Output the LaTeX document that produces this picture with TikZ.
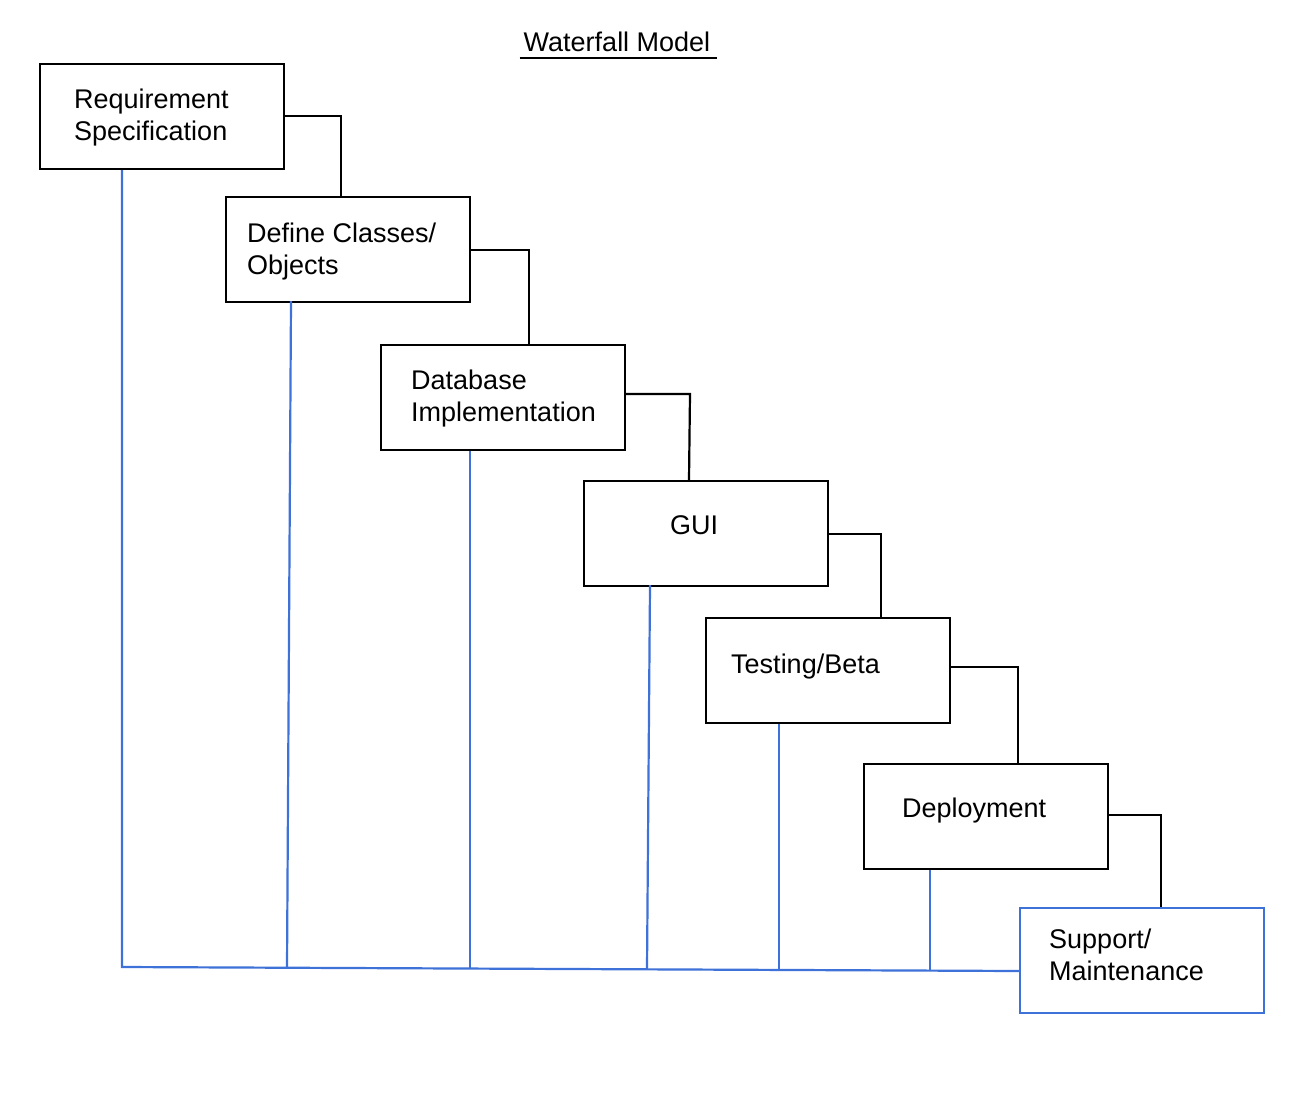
\documentclass[tikz,border=0pt]{standalone}
\usepackage{fontspec}
\setmainfont{Liberation Sans}
\definecolor{flowblue}{RGB}{62,114,216}
\tikzset{
  box/.style={draw=black, line width=2.2pt, rectangle, minimum width=244pt, minimum height=105pt, anchor=north west, inner sep=0pt},
  bluebox/.style={box, draw=flowblue},
  lbl/.style={anchor=base west, align=left, inner sep=0pt, font=\fontsize{27}{31.5}\selectfont},
  flow/.style={draw=black, line width=2.2pt},
  back/.style={draw=flowblue, line width=2.2pt},
}
\begin{document}
\begin{tikzpicture}[x=1pt,y=-1pt]
\useasboundingbox (0,0) rectangle (1304,1103);
% title
\node (title) [anchor=base, inner sep=0pt, font=\fontsize{27}{31.5}\selectfont] at (617,51) {Waterfall Model};
\draw[line width=2.2pt] ([xshift=-4pt,yshift=-7pt]title.base west) -- ([xshift=7pt,yshift=-7pt]title.base east);
% boxes
\node (b1) [box] at (39,63) {};
\node (b2) [box] at (225,196) {};
\node (b3) [box] at (380,344) {};
\node (b4) [box] at (583,480) {};
\node (b5) [box] at (705,617) {};
\node (b6) [box] at (863,763) {};
\node (b7) [bluebox] at (1019,907) {};
% labels (base = baseline of the last line)
\node (t1) [lbl] at (74,140) {Requirement\\Specification};
\node (t2) [lbl] at (247,274) {Define Classes/\\Objects};
\node (t3) [lbl] at (411,421) {Database\\Implementation};
\node (t4) [lbl] at (670,534) {GUI};
\node (t5) [lbl] at (731,673) {Testing/Beta};
\node (t6) [lbl] at (902,817) {Deployment};
\node (t7) [lbl] at (1049,980) {Support/\\Maintenance};
% forward connectors
\coordinate (c1) at (341,116);
\coordinate (c2) at (529,250);
\coordinate (c3) at (690,394);
\coordinate (c4) at (881,534);
\coordinate (c5) at (1018,667);
\coordinate (c6) at (1161,815);
\draw[flow] (b1.east |- c1) -- (c1) -- (c1 |- b2.north);
\draw[flow] (b2.east |- c2) -- (c2) -- (c2 |- b3.north);
\draw[flow] (b3.east |- c3) -- (c3) -- ([xshift=-1pt]c3 |- b4.north);
\draw[flow] (b4.east |- c4) -- (c4) -- (c4 |- b5.north);
\draw[flow] (b5.east |- c5) -- (c5) -- (c5 |- b6.north);
\draw[flow] (b6.east |- c6) -- (c6) -- (c6 |- b7.north);
% feedback lines
\coordinate (f1) at (122,967);
\coordinate (f2) at (287,967.7);
\coordinate (f3) at (470,968.3);
\coordinate (f4) at (647,969);
\coordinate (f5) at (779,969.8);
\coordinate (f6) at (930,970.3);
\coordinate (f7) at (1019,971);
\draw[back] (f1 |- b1.south) -- (f1) -- (f7);
\draw[back] (291,301) -- (f2);
\draw[back] (f3 |- b3.south) -- (f3);
\draw[back] (650,585) -- (f4);
\draw[back] (f5 |- b5.south) -- (f5);
\draw[back] (f6 |- b6.south) -- (f6);
\end{tikzpicture}
\end{document}
